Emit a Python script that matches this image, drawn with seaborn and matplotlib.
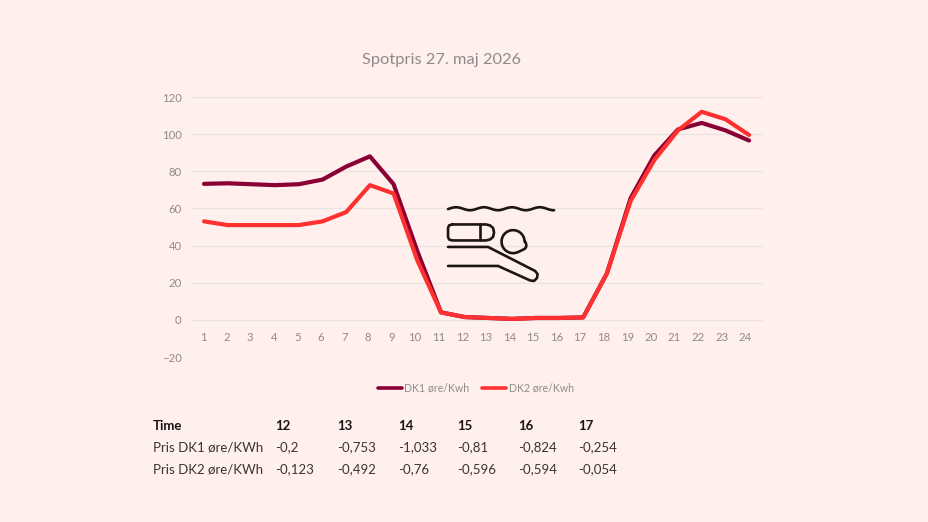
import numpy as np
import pandas as pd
import seaborn as sns
import matplotlib.pyplot as plt

W, H = 928, 522
BG = "#fff0ed"

# chart data
hours = list(range(1, 25))
dk1 = [73.2, 73.5, 73, 72.5, 73, 75.5, 82.5, 88, 73, 37, 4, 1.5, 1, 0.5, 1, 1, 1.3, 25, 65.5, 88.5, 102.5, 106, 102, 96.5]
dk2 = [53, 51, 51, 51, 51, 53, 58, 72.5, 68, 32, 4, 1.5, 1, 0.5, 1, 1, 1.3, 25, 64, 86, 102, 112, 108, 99.5]
y_ticks = [-20, 0, 20, 40, 60, 80, 100, 120]
series_names = ["DK1 øre/Kwh", "DK2 øre/Kwh"]

# table below the chart
tbl_head = ["12", "13", "14", "15", "16", "17"]
tbl_dk1 = ["-0,2", "-0,753", "-1,033", "-0,81", "-0,824", "-0,254"]
tbl_dk2 = ["-0,123", "-0,492", "-0,76", "-0,596", "-0,594", "-0,054"]

df = pd.DataFrame({"hour": hours, series_names[0]: dk1, series_names[1]: dk2})
df = df.melt("hour", var_name="area", value_name="price")

sns.set_theme(style="white")
plt.rcParams["font.family"] = ["Lato", "DejaVu Sans"]

fig = plt.figure(figsize=(9.281, 5.221), dpi=100, facecolor=BG)


def px_x(x):
    return x / W


def px_y(y):
    return 1 - y / H


ax = fig.add_axes([192 / W, 1 - 357 / H, (763 - 192) / W, (357 - 97) / H], facecolor=BG)
for y in y_ticks:
    ax.axhline(y, color="#e8e3e0", lw=0.9, zorder=1)

sns.lineplot(
    data=df, x="hour", y="price", hue="area", ax=ax,
    palette=["#8a0035", "#ff3030"], linewidth=3.0, legend=False, zorder=3,
)
ax.set_xlim(0.494, 24.59)
ax.set_ylim(-20, 120)
ax.set_xlabel("")
ax.set_ylabel("")
sns.despine(ax=ax, left=True, bottom=True)

# x labels sit at zero level, a bit tighter than the points
tick_pos = [1 + (h - 1) * 23.57 / 23.7 - 0.04 for h in hours]
ax.set_xticks(tick_pos)
ax.set_xticklabels(hours)
ax.set_yticks(y_ticks)
ax.tick_params(axis="both", length=0, labelsize=8.2, labelcolor="#8f8a88")
ax.tick_params(axis="y", pad=7.5)
ax.tick_params(axis="x", pad=0)
for lab in ax.get_xticklabels():
    lab.set_transform(ax.transData)
    lab.set_y(-9.3)
    lab.set_va("center")

fig.text(px_x(441), px_y(59.5), "Spotpris 27. maj 2026", ha="center", va="center", fontsize=11.8, color="#8f8a88")

# legend
for x0, col, name, tx in [(378, "#8a0035", series_names[0], 404), (482, "#ff3030", series_names[1], 509)]:
    fig.add_artist(plt.Line2D([px_x(x0), px_x(x0 + 24)], [px_y(388), px_y(388)], color=col, lw=2.6))
    fig.text(px_x(tx), px_y(387.5), name, ha="left", va="center", fontsize=7.6, color="#8f8a88")

# table
col_x = [275, 337, 398, 457, 518, 578]
rows = [("Time", tbl_head, 426, "bold", "#1a1414"), ("Pris DK1 øre/KWh", tbl_dk1, 447, "normal", "#3a3432"), ("Pris DK2 øre/KWh", tbl_dk2, 469, "normal", "#3a3432")]
for label, vals, y, weight, col in rows:
    fig.text(px_x(153), px_y(y), label, ha="left", va="center", fontsize=9.5, fontweight=weight, color=col)
    for x, v in zip(col_x, vals):
        fig.text(px_x(x), px_y(y), v, ha="left", va="center", fontsize=9.5, fontweight=weight, color=col)

# swimmer icon, drawn in pixel coordinates on a transparent overlay
icon = fig.add_axes([0, 0, 1, 1], facecolor="none")
icon.set_xlim(0, W)
icon.set_ylim(H, 0)
icon.axis("off")
ink = dict(color="#1d1513", lw=1.9, solid_capstyle="round", solid_joinstyle="round")
t = np.linspace(0, 1, 120)
icon.plot(448 + 106 * t, 208.8 + 1.5 * np.sin(t * 2 * np.pi * 3.8 + 2.9), **ink)
board_x = [452, 486, 490, 493, 494, 493, 490, 486, 452, 449, 448, 448, 449, 452]
board_y = [224.5, 224.5, 225.5, 228, 232.5, 237, 239.5, 240.5, 240.5, 239.5, 237, 228, 225.5, 224.5]
icon.plot(board_x, board_y, **ink)
icon.plot([480, 480], [224.5, 240.5], **ink)
a = np.linspace(0, 2 * np.pi, 60)
head_r = 11.5 + 2.6 * np.exp(-((a - 0.4) / 0.35) ** 2)
icon.plot(513 + head_r * np.cos(a), 241.7 + head_r * np.sin(a), **ink)
icon.plot([448, 488, 535, 537.5, 537, 534, 530, 498, 448], [247, 247, 271, 274, 278, 281, 280.5, 266, 266], **ink)

fig.savefig("out.png", dpi=100, facecolor=BG)
